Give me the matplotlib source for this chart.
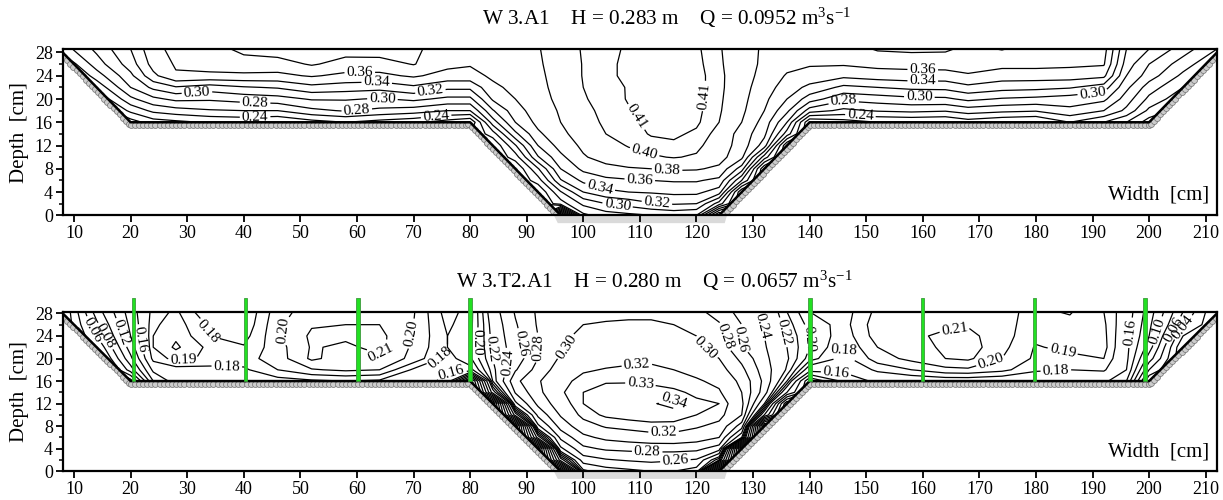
import numpy as np
import matplotlib.pyplot as plt
from matplotlib.patches import Polygon, Rectangle

plt.rcParams['font.family'] = 'Liberation Serif'
plt.rcParams['mathtext.fontset'] = 'custom'
plt.rcParams['mathtext.rm'] = 'Liberation Serif'
plt.rcParams['mathtext.it'] = 'Liberation Serif:italic'

# measuring verticals [cm]
x_left = [8, 14, 20, 24, 28, 34, 40, 46, 52, 58, 64, 70, 76]
x_main = [80, 84, 88, 92, 96, 100, 104, 108, 112, 116, 120, 124, 128, 132, 136, 140]
x_right = [146, 152, 158, 164, 168, 174, 180, 186, 192, 196, 200, 206, 212]

# ---- W 3.A1 : velocities [m/s] ----
y_a = [28.6, 26, 24, 22, 20, 18, 16, 14, 12, 10, 8, 6, 4, 2, 0]
left_a = [
    [0.250, 0.285, 0.320, 0.355, 0.365, 0.372, 0.385, 0.390, 0.383, 0.388, 0.390, 0.383, 0.372],
    [0.220, 0.270, 0.310, 0.348, 0.362, 0.368, 0.372, 0.372, 0.382, 0.373, 0.372, 0.381, 0.366],
    [0.200, 0.250, 0.295, 0.335, 0.358, 0.356, 0.356, 0.355, 0.362, 0.355, 0.355, 0.363, 0.352],
    [0.190, 0.225, 0.280, 0.305, 0.318, 0.310, 0.318, 0.322, 0.334, 0.330, 0.327, 0.336, 0.325],
    [0.180, 0.200, 0.255, 0.275, 0.285, 0.283, 0.288, 0.292, 0.302, 0.302, 0.298, 0.305, 0.295],
    [0.170, 0.180, 0.225, 0.245, 0.252, 0.258, 0.260, 0.260, 0.275, 0.282, 0.275, 0.270, 0.260],
    [0.160, 0.170, 0.190, 0.210, 0.215, 0.222, 0.225, 0.220, 0.232, 0.240, 0.232, 0.225, 0.210],
]
main_a = [
    [0.372, 0.374, 0.376, 0.379, 0.388, 0.402, 0.406, 0.412, 0.416, 0.416, 0.412, 0.402, 0.386, 0.378, 0.370, 0.368],
    [0.362, 0.370, 0.373, 0.378, 0.387, 0.401, 0.407, 0.413, 0.417, 0.417, 0.413, 0.403, 0.387, 0.377, 0.366, 0.362],
    [0.352, 0.364, 0.370, 0.377, 0.386, 0.401, 0.407, 0.413, 0.417, 0.417, 0.414, 0.404, 0.388, 0.374, 0.358, 0.352],
    [0.325, 0.355, 0.366, 0.376, 0.385, 0.400, 0.405, 0.411, 0.416, 0.417, 0.414, 0.404, 0.387, 0.370, 0.350, 0.335],
    [0.295, 0.343, 0.360, 0.374, 0.384, 0.399, 0.404, 0.411, 0.415, 0.416, 0.413, 0.403, 0.386, 0.365, 0.340, 0.310],
    [0.260, 0.318, 0.352, 0.370, 0.382, 0.397, 0.403, 0.409, 0.414, 0.415, 0.413, 0.402, 0.384, 0.360, 0.325, 0.270],
    [0.200, 0.290, 0.340, 0.366, 0.380, 0.395, 0.402, 0.407, 0.413, 0.414, 0.412, 0.400, 0.380, 0.352, 0.300, 0.200],
    [0.220, 0.250, 0.315, 0.356, 0.375, 0.390, 0.400, 0.405, 0.411, 0.412, 0.408, 0.395, 0.372, 0.345, 0.270, 0.200],
    [0.220, 0.220, 0.278, 0.340, 0.368, 0.384, 0.394, 0.401, 0.406, 0.408, 0.404, 0.390, 0.372, 0.330, 0.200, 0.200],
    [0.220, 0.220, 0.250, 0.318, 0.355, 0.378, 0.388, 0.394, 0.398, 0.401, 0.398, 0.388, 0.365, 0.270, 0.200, 0.200],
    [0.220, 0.220, 0.220, 0.278, 0.340, 0.365, 0.374, 0.378, 0.380, 0.383, 0.382, 0.376, 0.330, 0.200, 0.200, 0.200],
    [0.220, 0.220, 0.220, 0.250, 0.318, 0.345, 0.355, 0.358, 0.360, 0.362, 0.362, 0.355, 0.280, 0.200, 0.200, 0.200],
    [0.220, 0.220, 0.220, 0.220, 0.278, 0.320, 0.335, 0.340, 0.342, 0.345, 0.345, 0.330, 0.200, 0.200, 0.200, 0.200],
    [0.220, 0.220, 0.220, 0.220, 0.250, 0.285, 0.300, 0.308, 0.318, 0.322, 0.320, 0.270, 0.200, 0.200, 0.200, 0.200],
    [0.220, 0.220, 0.220, 0.220, 0.050, 0.255, 0.270, 0.275, 0.280, 0.285, 0.280, 0.150, 0.200, 0.200, 0.200, 0.200],
]
right_a = [
    [0.370, 0.382, 0.384, 0.383, 0.375, 0.381, 0.372, 0.370, 0.368, 0.300, 0.280, 0.250, 0.220],
    [0.362, 0.366, 0.367, 0.368, 0.368, 0.366, 0.366, 0.364, 0.362, 0.290, 0.260, 0.230, 0.200],
    [0.345, 0.350, 0.352, 0.352, 0.358, 0.350, 0.350, 0.350, 0.345, 0.280, 0.250, 0.215, 0.190],
    [0.315, 0.320, 0.325, 0.326, 0.335, 0.328, 0.326, 0.322, 0.310, 0.265, 0.230, 0.200, 0.180],
    [0.285, 0.290, 0.295, 0.296, 0.305, 0.298, 0.295, 0.290, 0.285, 0.250, 0.215, 0.185, 0.170],
    [0.255, 0.262, 0.265, 0.262, 0.270, 0.265, 0.262, 0.275, 0.260, 0.235, 0.195, 0.170, 0.160],
    [0.210, 0.220, 0.222, 0.220, 0.230, 0.222, 0.218, 0.240, 0.220, 0.200, 0.170, 0.160, 0.150],
]
levels_a = [0.02, 0.04, 0.06, 0.08, 0.10, 0.12, 0.14, 0.16, 0.18, 0.20, 0.22, 0.24, 0.26,
            0.28, 0.30, 0.32, 0.34, 0.36, 0.38, 0.40, 0.41]
labels_a = [(31.7, 21.5), (42, 19.5), (42, 17.1), (60.5, 24.7), (63.5, 22.9), (73, 21.2),
            (64.5, 20.0), (60, 17.8), (74, 17.0), (109.5, 17.0), (120.4, 20.7), (111, 11.4),
            (114.8, 7.6), (110, 6.3), (103, 4.9), (106, 1.3), (113, 2.0), (160, 25.3),
            (160, 23.4), (159.4, 20.6), (146, 20), (149, 17.4), (190, 21.4)]

# ---- W 3.T2.A1 : velocities [m/s] ----
y_b = [28.3, 26, 24, 22, 20, 18, 16, 14, 12, 10, 8, 6, 4, 2, 0]
left_b = [
    [0.0, 0.090, 0.150, 0.185, 0.192, 0.170, 0.170, 0.196, 0.205, 0.206, 0.205, 0.201, 0.175],
    [0.0, 0.075, 0.145, 0.188, 0.195, 0.178, 0.172, 0.198, 0.209, 0.210, 0.210, 0.200, 0.178],
    [0.0, 0.060, 0.140, 0.190, 0.198, 0.180, 0.176, 0.198, 0.212, 0.212, 0.213, 0.199, 0.180],
    [0.0, 0.040, 0.130, 0.190, 0.202, 0.187, 0.181, 0.196, 0.211, 0.208, 0.213, 0.198, 0.180],
    [0.0, 0.020, 0.115, 0.185, 0.193, 0.188, 0.186, 0.195, 0.212, 0.205, 0.208, 0.197, 0.175],
    [0.0, 0.000, 0.090, 0.165, 0.175, 0.176, 0.178, 0.190, 0.199, 0.202, 0.200, 0.178, 0.163],
    [0.0, 0.000, 0.030, 0.140, 0.170, 0.172, 0.172, 0.175, 0.178, 0.180, 0.178, 0.170, 0.155],
]
main_b = [
    [0.185, 0.230, 0.262, 0.283, 0.290, 0.293, 0.294, 0.295, 0.295, 0.292, 0.285, 0.272, 0.252, 0.235, 0.210, 0.190],
    [0.186, 0.226, 0.258, 0.282, 0.295, 0.300, 0.302, 0.303, 0.303, 0.300, 0.295, 0.282, 0.260, 0.238, 0.215, 0.196],
    [0.188, 0.224, 0.255, 0.280, 0.297, 0.303, 0.306, 0.307, 0.308, 0.305, 0.300, 0.288, 0.258, 0.240, 0.218, 0.200],
    [0.190, 0.222, 0.252, 0.280, 0.298, 0.305, 0.308, 0.312, 0.313, 0.310, 0.304, 0.292, 0.262, 0.242, 0.220, 0.200],
    [0.188, 0.220, 0.248, 0.280, 0.303, 0.310, 0.314, 0.317, 0.318, 0.315, 0.310, 0.300, 0.275, 0.245, 0.222, 0.195],
    [0.175, 0.215, 0.258, 0.288, 0.310, 0.318, 0.321, 0.322, 0.322, 0.320, 0.315, 0.308, 0.285, 0.250, 0.218, 0.170],
    [0.020, 0.210, 0.275, 0.298, 0.315, 0.325, 0.329, 0.329, 0.328, 0.326, 0.322, 0.316, 0.295, 0.255, 0.200, 0.100],
    [0.000, 0.170, 0.262, 0.295, 0.318, 0.330, 0.334, 0.335, 0.334, 0.332, 0.328, 0.322, 0.300, 0.250, 0.160, 0.100],
    [0.000, 0.000, 0.235, 0.285, 0.312, 0.330, 0.335, 0.338, 0.339, 0.343, 0.332, 0.330, 0.305, 0.220, 0.060, 0.100],
    [0.000, 0.000, 0.170, 0.265, 0.302, 0.325, 0.332, 0.334, 0.337, 0.336, 0.330, 0.326, 0.300, 0.160, 0.050, 0.100],
    [0.000, 0.000, 0.000, 0.235, 0.288, 0.312, 0.322, 0.325, 0.326, 0.326, 0.322, 0.315, 0.270, 0.000, 0.050, 0.100],
    [0.000, 0.000, 0.000, 0.170, 0.265, 0.295, 0.305, 0.310, 0.315, 0.315, 0.310, 0.300, 0.220, 0.000, 0.050, 0.100],
    [0.000, 0.000, 0.000, 0.000, 0.235, 0.275, 0.283, 0.285, 0.286, 0.287, 0.285, 0.270, 0.000, 0.000, 0.050, 0.100],
    [0.000, 0.000, 0.000, 0.000, 0.170, 0.250, 0.258, 0.262, 0.265, 0.262, 0.258, 0.200, 0.000, 0.000, 0.050, 0.100],
    [0.000, 0.000, 0.000, 0.000, 0.000, 0.215, 0.230, 0.235, 0.240, 0.240, 0.230, 0.000, 0.000, 0.000, 0.050, 0.100],
]
right_b = [
    [0.185, 0.203, 0.205, 0.203, 0.204, 0.202, 0.198, 0.201, 0.190, 0.172, 0.130, 0.060, 0.0],
    [0.186, 0.206, 0.207, 0.208, 0.209, 0.203, 0.196, 0.197, 0.192, 0.170, 0.125, 0.045, 0.0],
    [0.184, 0.205, 0.208, 0.212, 0.213, 0.204, 0.193, 0.196, 0.193, 0.168, 0.120, 0.020, 0.0],
    [0.181, 0.200, 0.205, 0.212, 0.215, 0.203, 0.189, 0.193, 0.194, 0.166, 0.110, 0.000, 0.0],
    [0.176, 0.195, 0.203, 0.210, 0.212, 0.200, 0.188, 0.187, 0.190, 0.165, 0.090, 0.000, 0.0],
    [0.165, 0.183, 0.190, 0.197, 0.198, 0.193, 0.182, 0.180, 0.182, 0.160, 0.060, 0.000, 0.0],
    [0.145, 0.165, 0.170, 0.172, 0.172, 0.170, 0.168, 0.166, 0.165, 0.140, 0.020, 0.000, 0.0],
]
levels_b = [0.02, 0.04, 0.06, 0.08, 0.10, 0.12, 0.14, 0.16, 0.18, 0.19, 0.20, 0.21, 0.22,
            0.24, 0.26, 0.28, 0.30, 0.32, 0.33, 0.34]
labels_b = [(13.3, 25), (14.9, 23.6), (18.0, 24.5), (21.3, 23.3), (32.8, 24.5), (29.3, 20.0),
            (37, 18.4), (49.1, 24.7), (64.2, 21.1), (69.7, 24.4), (74.3, 20.5), (76.7, 17.6),
            (81.3, 22.8), (83.4, 21.6), (86.9, 19.2), (89.5, 22.8), (92.5, 21.9), (98.4, 20.1),
            (109.5, 18.3), (110.1, 15.4), (116, 12.7), (114.2, 6.5), (111.3, 3.5), (116.3, 1.7),
            (121, 21), (123, 23.3), (127.2, 23.3), (131, 25.7), (134.8, 24.5), (139.5, 23.5),
            (146.1, 21.5), (144.7, 17.6), (165.6, 25.3), (171.8, 20.3), (184.7, 21.2),
            (183.5, 18.3), (197.3, 24.5), (200.9, 25.1), (204.0, 25.3), (205.7, 26.0)]
trees_b = [20.5, 40.3, 60.2, 80.0, 140.1, 159.9, 179.7, 199.3]

# channel geometry
bed_left = [(8, 28), (20, 16), (80, 16), (96, 0)]
bed_right = [(124, 0), (140, 16), (200, 16), (212, 28)]


def grid(vl, vm, vr):
    rows = []
    for i in range(len(vm)):
        j = min(i, len(vl) - 1)
        rows.append(list(vl[j]) + list(vm[i]) + list(vr[j]))
    return np.array(rows)


def bed_circles(ax, pts, side):
    for (x0, y0), (x1, y1) in zip(pts[:-1], pts[1:]):
        L = np.hypot(x1 - x0, y1 - y0)
        n = int(L / 0.72)
        t = np.linspace(0, 1, n)
        dx, dy = (x1 - x0) / L, (y1 - y0) / L
        if dy == 0:
            ox, oy = 0, -0.5
        else:
            ox, oy = side * 0.4 * abs(dy), -0.4 * abs(dx)
        ax.plot(x0 + t * (x1 - x0) + ox, y0 + t * (y1 - y0) + oy, 'o', ms=4.3,
                mfc='#cccccc', mec='#777777', mew=0.55, zorder=2)


def panel(ax, ytop, yv, vl, vm, vr, levels, lab_pos):
    xs = np.array(x_left + x_main + x_right, dtype=float)
    ys = np.array(yv, dtype=float)
    Z = grid(vl, vm, vr)
    cs = ax.contour(xs, ys[::-1], Z[::-1], levels=levels, colors='k', linewidths=0.9, zorder=3)
    clip = Polygon([(8 - (ytop - 28), ytop), (20, 16), (80, 16), (96, 0), (124, 0), (140, 16),
                    (200, 16), (212 + (ytop - 28), ytop)], closed=True, facecolor='none',
                   edgecolor='none')
    ax.add_patch(clip)
    cs.set_clip_path(clip)
    ax.clabel(cs, levels=levels, manual=lab_pos, inline=True, fmt='%.2f', fontsize=11,
              inline_spacing=2)

    bed_circles(ax, bed_left, -1)
    bed_circles(ax, bed_right, 1)
    for pts in (bed_left, bed_right):
        ax.plot([p[0] for p in pts], [p[1] for p in pts], color='k', lw=1.8, zorder=4,
                solid_capstyle='butt')
    ax.add_patch(Polygon([(94.8, 0), (125.4, 0), (125.0, -1.35), (95.5, -1.35)],
                         closed=True, facecolor='#dadada', edgecolor='none',
                         clip_on=False, zorder=1))

    ax.set_xlim(8, 212)
    ax.set_ylim(0, ytop)
    ax.set_xticks(np.arange(10, 211, 10))
    ax.set_yticks(np.arange(0, 29, 4))
    ax.set_yticks(np.arange(2, 28, 4), minor=True)
    ax.tick_params(axis='both', which='major', direction='out', length=5, width=1.3,
                   labelsize=13, pad=2)
    ax.tick_params(axis='y', which='minor', direction='out', length=3, width=1.1)
    for s in ax.spines.values():
        s.set_linewidth(1.6)
        s.set_zorder(5)
    ax.set_ylabel('Depth  [cm]', fontsize=15, labelpad=4)
    ax.text(0.9935, 0.122, 'Width  [cm]', transform=ax.transAxes, ha='right', va='center',
            fontsize=15)


fig = plt.figure(figsize=(12.23, 5.0), dpi=100)
W, H = 1223.0, 500.0
ax1 = fig.add_axes([62.7 / W, 1 - 215.3 / H, (1217 - 62.7) / W, 166.3 / H])
ax2 = fig.add_axes([62.7 / W, 1 - 471.3 / H, (1217 - 62.7) / W, 159.6 / H])

panel(ax1, 28.6, y_a, left_a, main_a, right_a, levels_a, labels_a)
panel(ax2, 28.3, y_b, left_b, main_b, right_b, levels_b, labels_b)

for xt in trees_b:
    ax2.add_patch(Rectangle((xt - 0.3, 16), 0.6, 14.7, facecolor='#22e022',
                            edgecolor='#3c9a3c', lw=0.6, clip_on=False, zorder=6))

fig.text(667 / W, 1 - 18 / H, r'W 3.A1    H = 0.283 m    Q = 0.0952 m$^3$s$^{-1}$',
         ha='center', va='center', fontsize=15.3)
fig.text(654 / W, 1 - 281 / H, r'W 3.T2.A1    H = 0.280 m    Q = 0.0657 m$^3$s$^{-1}$',
         ha='center', va='center', fontsize=15.3)

fig.savefig('out.png', dpi=100)
